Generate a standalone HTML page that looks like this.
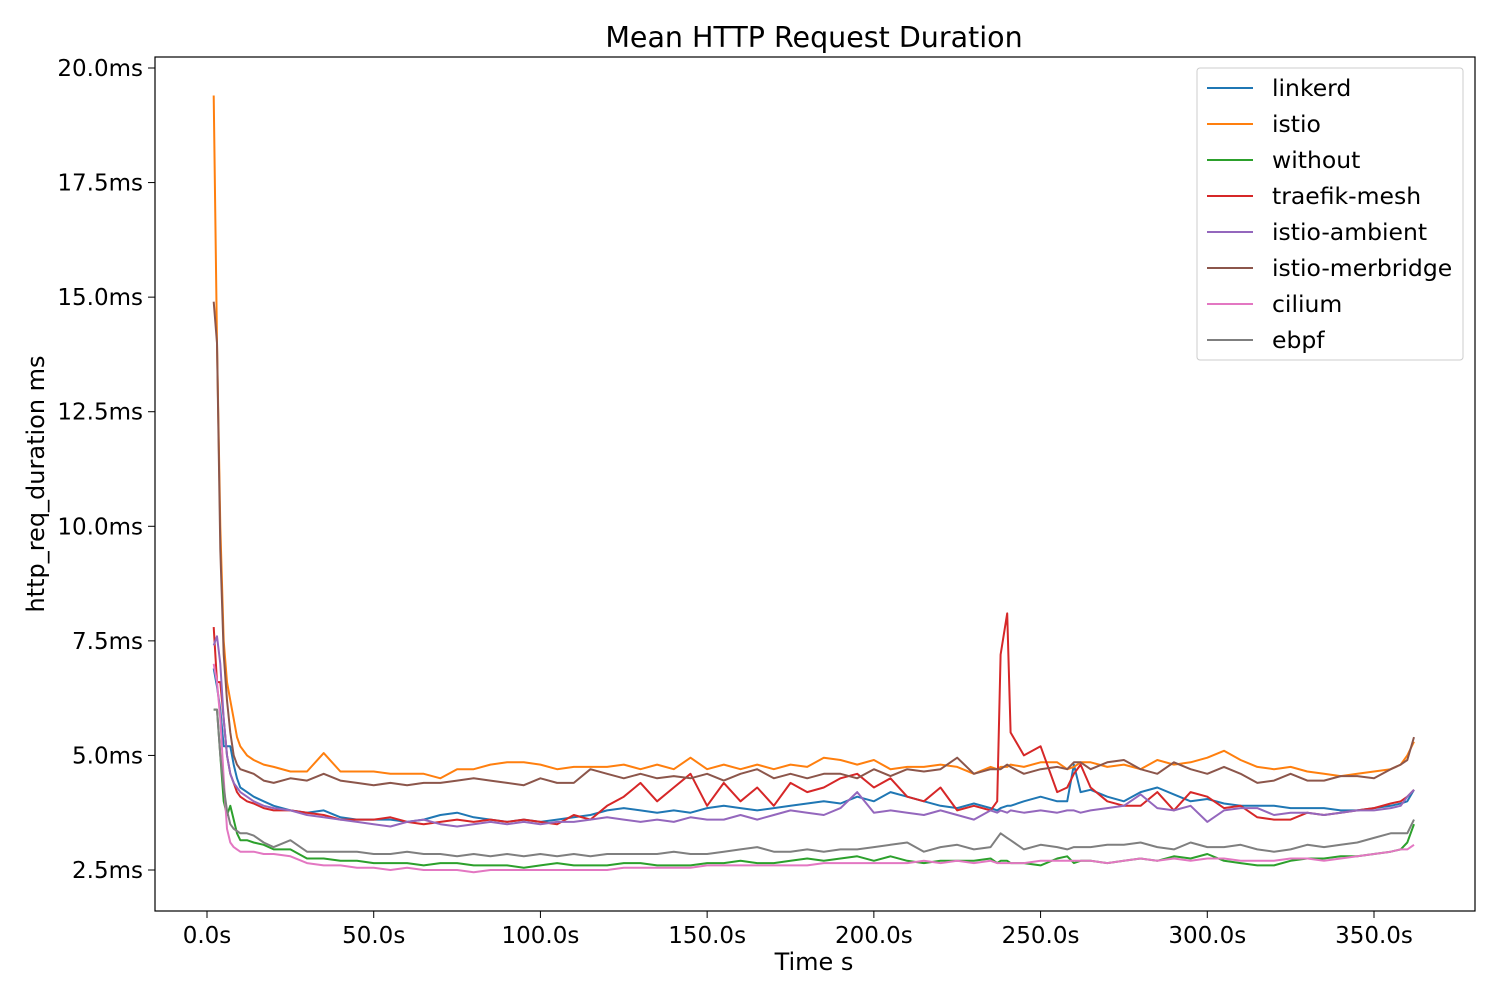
<!DOCTYPE html>
<html><head><meta charset="utf-8"><style>
html,body{margin:0;padding:0;background:#fff;}
svg{display:block;font-family:"DejaVu Sans","Liberation Sans",sans-serif;}
</style></head><body>
<svg id="chart" width="1500" height="1000" viewBox="0 0 1500 1000">
<rect x="0" y="0" width="1500" height="1000" fill="#fff"/>
<text x="814" y="47" font-size="28.5" text-anchor="middle">Mean HTTP Request Duration</text>
<g id="series"></g>
<rect x="155" y="57" width="1320" height="854" fill="none" stroke="#000" stroke-width="1.2"/>
<g id="xticks"></g>
<g id="yticks"></g>
<text x="814" y="970" font-size="24" text-anchor="middle">Time s</text>
<text x="0" y="0" font-size="24" text-anchor="middle" transform="translate(44,484) rotate(-90)">http_req_duration ms</text>
<g id="legend"></g>
</svg>
<script>
const times=[2,3,4,5,6,7,8,9,10,12,14,17,20,25,30,35,40,45,50,55,60,65,70,75,80,85,90,95,100,105,110,115,120,125,130,135,140,145,150,155,160,165,170,175,180,185,190,195,200,205,210,215,220,225,230,235,237,238,240,241,245,250,255,258,260,262,265,270,275,280,285,290,295,300,305,310,315,320,325,330,335,340,345,350,355,358,360,362];
const seriesNames=["linkerd","istio","without","traefik-mesh","istio-ambient","istio-merbridge","cilium","ebpf"];
const linkerd=[6.9,6.5,6.0,5.2,5.2,5.2,4.8,4.5,4.3,4.2,4.1,4.0,3.9,3.8,3.75,3.8,3.65,3.6,3.6,3.6,3.55,3.6,3.7,3.75,3.65,3.6,3.55,3.6,3.55,3.6,3.65,3.7,3.8,3.85,3.8,3.75,3.8,3.75,3.85,3.9,3.85,3.8,3.85,3.9,3.95,4.0,3.95,4.1,4.0,4.2,4.1,4.0,3.9,3.85,3.95,3.85,3.8,3.85,3.9,3.9,4.0,4.1,4.0,4.0,4.8,4.2,4.25,4.1,4.0,4.2,4.3,4.15,4.0,4.05,3.95,3.9,3.9,3.9,3.85,3.85,3.85,3.8,3.8,3.85,3.9,3.95,4.0,4.25];
const istio=[19.4,14,10,7.5,6.6,6.2,5.8,5.4,5.2,5.0,4.9,4.8,4.75,4.65,4.65,5.05,4.65,4.65,4.65,4.6,4.6,4.6,4.5,4.7,4.7,4.8,4.85,4.85,4.8,4.7,4.75,4.75,4.75,4.8,4.7,4.8,4.7,4.95,4.7,4.8,4.7,4.8,4.7,4.8,4.75,4.95,4.9,4.8,4.9,4.7,4.75,4.75,4.8,4.75,4.6,4.75,4.7,4.75,4.75,4.8,4.75,4.85,4.85,4.7,4.75,4.85,4.85,4.75,4.8,4.7,4.9,4.8,4.85,4.95,5.1,4.9,4.75,4.7,4.75,4.65,4.6,4.55,4.6,4.65,4.7,4.8,5.0,5.3];
const without=[6.0,6.0,5.0,4.0,3.7,3.9,3.6,3.3,3.15,3.15,3.1,3.05,2.95,2.95,2.75,2.75,2.7,2.7,2.65,2.65,2.65,2.6,2.65,2.65,2.6,2.6,2.6,2.55,2.6,2.65,2.6,2.6,2.6,2.65,2.65,2.6,2.6,2.6,2.65,2.65,2.7,2.65,2.65,2.7,2.75,2.7,2.75,2.8,2.7,2.8,2.7,2.65,2.7,2.7,2.7,2.75,2.65,2.7,2.7,2.65,2.65,2.6,2.75,2.8,2.65,2.7,2.7,2.65,2.7,2.75,2.7,2.8,2.75,2.85,2.7,2.65,2.6,2.6,2.7,2.75,2.75,2.8,2.8,2.85,2.9,2.95,3.1,3.5];
const traefikMesh=[7.8,6.6,6.6,5.8,5.0,4.6,4.4,4.2,4.1,4.0,3.95,3.85,3.8,3.8,3.75,3.7,3.6,3.6,3.6,3.65,3.55,3.5,3.55,3.6,3.55,3.6,3.55,3.6,3.55,3.5,3.7,3.6,3.9,4.1,4.4,4.0,4.3,4.6,3.9,4.4,4.0,4.3,3.9,4.4,4.2,4.3,4.5,4.6,4.3,4.5,4.1,4.0,4.3,3.8,3.9,3.8,4.0,7.2,8.1,5.5,5.0,5.2,4.2,4.3,4.6,4.8,4.3,4.0,3.9,3.9,4.2,3.8,4.2,4.1,3.85,3.9,3.65,3.6,3.6,3.75,3.7,3.75,3.8,3.85,3.95,4.0,4.1,4.25];
const istioAmbient=[7.4,7.6,7.0,5.8,5.0,4.6,4.4,4.3,4.2,4.1,4.0,3.9,3.85,3.8,3.7,3.65,3.6,3.55,3.5,3.45,3.55,3.6,3.5,3.45,3.5,3.55,3.5,3.55,3.5,3.55,3.55,3.6,3.65,3.6,3.55,3.6,3.55,3.65,3.6,3.6,3.7,3.6,3.7,3.8,3.75,3.7,3.85,4.2,3.75,3.8,3.75,3.7,3.8,3.7,3.6,3.8,3.75,3.8,3.75,3.8,3.75,3.8,3.75,3.8,3.8,3.75,3.8,3.85,3.9,4.15,3.85,3.8,3.9,3.55,3.8,3.85,3.85,3.7,3.75,3.75,3.7,3.75,3.8,3.8,3.85,3.9,4.1,4.25];
const istioMerbridge=[14.9,14.0,9.5,7.2,6.2,5.5,5.0,4.8,4.7,4.65,4.6,4.45,4.4,4.5,4.45,4.6,4.45,4.4,4.35,4.4,4.35,4.4,4.4,4.45,4.5,4.45,4.4,4.35,4.5,4.4,4.4,4.7,4.6,4.5,4.6,4.5,4.55,4.5,4.6,4.45,4.6,4.7,4.5,4.6,4.5,4.6,4.6,4.5,4.7,4.55,4.7,4.65,4.7,4.95,4.6,4.7,4.7,4.7,4.8,4.75,4.6,4.7,4.75,4.7,4.85,4.85,4.7,4.85,4.9,4.7,4.6,4.85,4.7,4.6,4.75,4.6,4.4,4.45,4.6,4.45,4.45,4.55,4.55,4.5,4.7,4.8,4.9,5.4];
const cilium=[7.0,6.6,5.8,4.5,3.4,3.1,3.0,2.95,2.9,2.9,2.9,2.85,2.85,2.8,2.65,2.6,2.6,2.55,2.55,2.5,2.55,2.5,2.5,2.5,2.45,2.5,2.5,2.5,2.5,2.5,2.5,2.5,2.5,2.55,2.55,2.55,2.55,2.55,2.6,2.6,2.6,2.6,2.6,2.6,2.6,2.65,2.65,2.65,2.65,2.65,2.65,2.7,2.65,2.7,2.65,2.7,2.65,2.65,2.65,2.65,2.65,2.7,2.7,2.7,2.7,2.7,2.7,2.65,2.7,2.75,2.7,2.75,2.7,2.75,2.75,2.7,2.7,2.7,2.75,2.75,2.7,2.75,2.8,2.85,2.9,2.95,2.95,3.05];
const ebpf=[6.0,6.0,5.0,4.3,3.8,3.5,3.4,3.35,3.3,3.3,3.25,3.1,3.0,3.15,2.9,2.9,2.9,2.9,2.85,2.85,2.9,2.85,2.85,2.8,2.85,2.8,2.85,2.8,2.85,2.8,2.85,2.8,2.85,2.85,2.85,2.85,2.9,2.85,2.85,2.9,2.95,3.0,2.9,2.9,2.95,2.9,2.95,2.95,3.0,3.05,3.1,2.9,3.0,3.05,2.95,3.0,3.2,3.3,3.2,3.15,2.95,3.05,3.0,2.95,3.0,3.0,3.0,3.05,3.05,3.1,3.0,2.95,3.1,3.0,3.0,3.05,2.95,2.9,2.95,3.05,3.0,3.05,3.1,3.2,3.3,3.3,3.3,3.6];
const xTickValues=[0,50,100,150,200,250,300,350];
const xTickLabels=["0.0s","50.0s","100.0s","150.0s","200.0s","250.0s","300.0s","350.0s"];
const yTickValues=[2.5,5,7.5,10,12.5,15,17.5,20];
const yTickLabels=["2.5ms","5.0ms","7.5ms","10.0ms","12.5ms","15.0ms","17.5ms","20.0ms"];

const colors=["#1f77b4","#ff7f0e","#2ca02c","#d62728","#9467bd","#8c564b","#e377c2","#7f7f7f"];
const allSeries=[linkerd,istio,without,traefikMesh,istioAmbient,istioMerbridge,cilium,ebpf];
const NS="http://www.w3.org/2000/svg";
function xScale(t){return 207+(t-0)*(1374-207)/350;}
function yScale(v){return 870-(v-2.5)*(870-68)/17.5;}
const sg=document.getElementById('series');
allSeries.forEach((vals,i)=>{
  const p=document.createElementNS(NS,'polyline');
  p.setAttribute('points',vals.map((v,j)=>xScale(times[j]).toFixed(1)+','+yScale(v).toFixed(1)).join(' '));
  p.setAttribute('fill','none');p.setAttribute('stroke',colors[i]);p.setAttribute('stroke-width','2');
  p.setAttribute('stroke-linejoin','round');
  
  
  sg.appendChild(p);
});
const xg=document.getElementById('xticks');
xTickValues.forEach((v,i)=>{
  const x=xScale(v);
  const l=document.createElementNS(NS,'line');
  l.setAttribute('x1',x);l.setAttribute('x2',x);l.setAttribute('y1',911);l.setAttribute('y2',918);l.setAttribute('stroke','#000');
  
  
  xg.appendChild(l);
  const t=document.createElementNS(NS,'text');
  t.setAttribute('x',x);t.setAttribute('y',943);t.setAttribute('font-size','23');t.setAttribute('text-anchor','middle');
  t.textContent=xTickLabels[i];
  
  
  xg.appendChild(t);
});
const yg=document.getElementById('yticks');
yTickValues.forEach((v,i)=>{
  const y=yScale(v);
  const l=document.createElementNS(NS,'line');
  l.setAttribute('x1',148);l.setAttribute('x2',155);l.setAttribute('y1',y);l.setAttribute('y2',y);l.setAttribute('stroke','#000');
  
  
  yg.appendChild(l);
  const t=document.createElementNS(NS,'text');
  t.setAttribute('x',143);t.setAttribute('y',y+8);t.setAttribute('font-size','23');t.setAttribute('text-anchor','end');
  t.textContent=yTickLabels[i];
  
  
  yg.appendChild(t);
});
const lg=document.getElementById('legend');
const box=document.createElementNS(NS,'rect');
box.setAttribute('x',1197);box.setAttribute('y',68);box.setAttribute('width',266);box.setAttribute('height',292);
box.setAttribute('rx',3);box.setAttribute('fill','#fff');box.setAttribute('fill-opacity','0.8');box.setAttribute('stroke','#ccc');


lg.appendChild(box);
seriesNames.forEach((n,i)=>{
  const y=88+i*36;
  const l=document.createElementNS(NS,'line');
  l.setAttribute('x1',1207);l.setAttribute('x2',1253);l.setAttribute('y1',y);l.setAttribute('y2',y);
  l.setAttribute('stroke',colors[i]);l.setAttribute('stroke-width','2');
  
  
  lg.appendChild(l);
  const t=document.createElementNS(NS,'text');
  t.setAttribute('x',1272);t.setAttribute('y',y+8);t.setAttribute('font-size','23.5');
  t.textContent=n;
  
  
  lg.appendChild(t);
});
</script>
</body></html>
